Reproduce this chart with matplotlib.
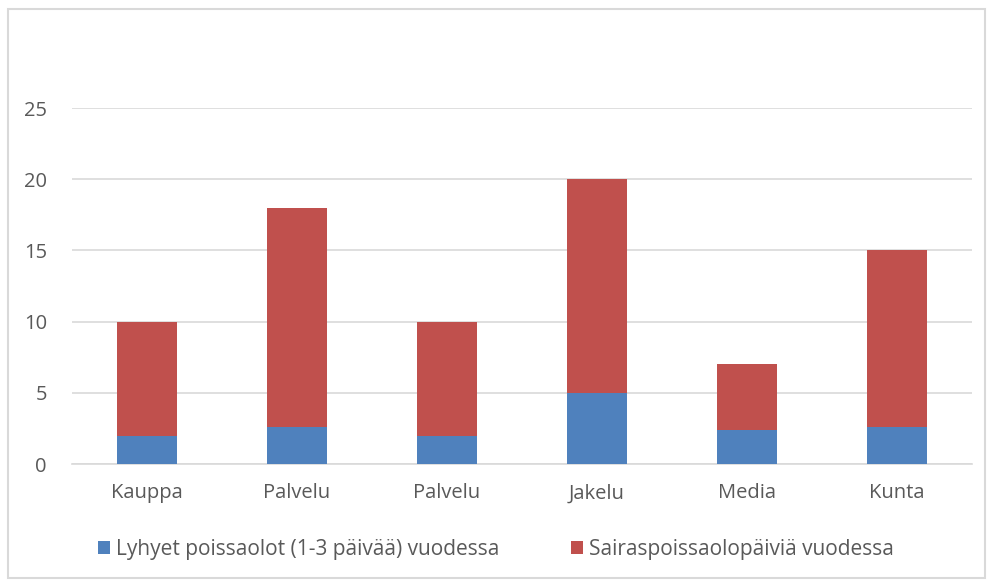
import numpy as np
import matplotlib.pyplot as plt
from matplotlib.patches import Rectangle

plt.rcParams['font.family'] = ['Open Sans', 'DejaVu Sans']

# Data
categories = ['Kauppa', 'Palvelu', 'Palvelu', 'Jakelu', 'Media', 'Kunta']
shortAbsence = [2.0, 2.6, 2.0, 5.0, 2.4, 2.6]
sickDays = [8.0, 15.4, 8.0, 15.0, 4.6, 12.4]
seriesNames = ['Lyhyet poissaolot (1-3 päivää) vuodessa', 'Sairaspoissaolopäiviä vuodessa']

blue = '#4f81bd'
red = '#c0504d'
textColor = '#595959'
gridColor = '#d9d9d9'

fig = plt.figure(figsize=(9.92, 5.82), dpi=100)
W, H = 992, 582
ax = fig.add_axes([72 / W, 1 - 464 / H, 900 / W, 356 / H])

x = np.arange(len(categories))
ax.bar(x, shortAbsence, width=0.4, color=blue, label=seriesNames[0], zorder=3)
ax.bar(x, sickDays, width=0.4, bottom=shortAbsence, color=red, label=seriesNames[1], zorder=3)

ax.set_xlim(-0.5, len(categories) - 0.5)
ax.set_ylim(0, 25)
ax.set_yticks(range(0, 26, 5))
ax.set_xticks(x)
ax.set_xticklabels(categories)
ax.grid(axis='y', color=gridColor, linewidth=1.2, zorder=0)
for side in ['top', 'right', 'left']:
    ax.spines[side].set_visible(False)
ax.spines['bottom'].set_color(gridColor)
ax.spines['bottom'].set_linewidth(1.2)
ax.tick_params(axis='both', length=0, labelsize=14.5, colors=textColor)
ax.tick_params(axis='x', pad=14)
ax.tick_params(axis='y', pad=18)

# Legend
fig.legend(loc='center', bbox_to_anchor=(0.5, 1 - 549 / H), ncol=2, frameon=False,
           fontsize=15, labelcolor=textColor, handlelength=0.6, handleheight=0.6,
           handletextpad=0.3, columnspacing=3.4)

# Chart border
fig.patches.append(Rectangle((8 / W, 1 - 578 / H), 977 / W, 569 / H, transform=fig.transFigure,
                             fill=False, edgecolor=gridColor, linewidth=1.5))

fig.savefig('out.png', dpi=100)
